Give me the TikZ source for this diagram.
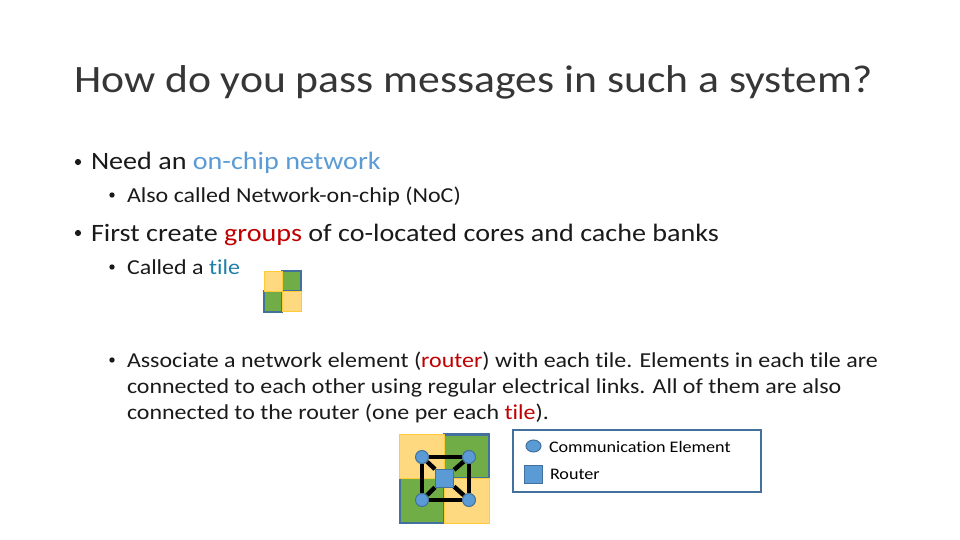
\documentclass[tikz,border=0pt]{standalone}
\usepackage{fontspec}
\usetikzlibrary{shapes.geometric,backgrounds}
\setmainfont{Carlito}[FakeStretch=1.125,Ligatures=NoCommon]
\definecolor{tealb}{HTML}{41719C}
\definecolor{gold}{HTML}{FFC000}
\definecolor{yfill}{HTML}{FFD97F}
\definecolor{gfill}{HTML}{70AD47}
\definecolor{bfill}{HTML}{5B9BD5}
\definecolor{bedge}{HTML}{41719C}
\definecolor{hlblue}{HTML}{5B9BD5}
\definecolor{hlteal}{HTML}{1F7FA8}
\definecolor{hlred}{HTML}{C00000}
\definecolor{ink}{HTML}{1A1A1A}
\tikzset{
 txt/.style={anchor=base west,inner sep=0pt,outer sep=0pt,text=ink,align=left},
 title/.style={txt,font=\fontsize{38.8}{44}\selectfont,text=ink!88!white},
 lvlone/.style={txt,font=\fontsize{25}{30}\selectfont},
 lvltwo/.style={txt,font=\fontsize{21.3}{26.5}\selectfont},
 legtext/.style={txt,font=\fontsize{16.1}{20}\selectfont,text=black},
 bullone/.style={circle,fill=ink,inner sep=0pt,minimum size=6.2pt},
 bulltwo/.style={circle,fill=ink,inner sep=0pt,minimum size=5.4pt},
 ytile/.style={fill=yfill,draw=gold!55!yfill,line width=1pt},
 gtile/.style={fill=gfill,draw=tealb,line width=2.4pt},
 comm/.style={circle,fill=bfill,draw=bedge,line width=1pt,inner sep=0pt,minimum size=13pt},
 commleg/.style={ellipse,fill=bfill,draw=bedge,line width=1pt,inner sep=0pt,minimum width=15pt,minimum height=12pt},
 router/.style={rectangle,fill=bfill,draw=bedge,line width=1pt,inner sep=0pt,minimum size=18pt},
 link/.style={draw=black,line width=4.4pt},
 legendbox/.style={rectangle,draw=tealb,line width=2pt,fill=white,inner sep=0pt,minimum width=248pt,minimum height=62pt},
}
\begin{document}
\begin{tikzpicture}[x=1pt,y=-1pt]
\useasboundingbox (0,0) rectangle (960,540);
\node[title] (t) at (74,93) {How do you pass messages in such a system?};
\node[bullone] (b1d) at (78,162) {};
\node[lvlone] (b1) at (91,170) {Need an \textcolor{hlblue}{on-chip network}};
\node[bulltwo] (b2d) at (112,195) {};
\node[lvltwo] (b2) at (127,202) {Also called Network-on-chip (NoC)};
\node[bullone] (b3d) at (78,233) {};
\node[lvlone] (b3) at (91,241) {First create \textcolor{hlred}{groups} of co-located cores and cache banks};
\node[bulltwo] (b4d) at (112,267) {};
\node[lvltwo] (b4) at (127,274) {Called a \textcolor{hlteal}{tile}};
\node[bulltwo] (b5d) at (112,360) {};
\node[lvltwo] (b5a) at (127,367) {Associate a network element (\textcolor{hlred}{router}) with each tile. Elements in each tile are};
\node[lvltwo] (b5b) at (127,393) {connected to each other using regular electrical links. All of them are also};
\node[lvltwo] (b5c) at (127,419) {connected to the router (one per each \textcolor{hlred}{tile}).};
% small tile
\draw[gtile,line width=2pt] (282,271) rectangle (301,291);
\draw[gtile,line width=2pt] (264,291) rectangle (282,312);
\draw[ytile] (264,271) rectangle (282,291);
\draw[ytile] (282,291) rectangle (301,311);
% large tile nodes
\node[comm] (c1) at (422,457) {};
\node[comm] (c2) at (469,457) {};
\node[comm] (c3) at (422,500) {};
\node[comm] (c4) at (469,500) {};
\node[router] (r) at (444.5,478) {};
\begin{scope}[on background layer]
\draw[gtile] (444,434.5) rectangle (489,478);
\draw[gtile] (400,478) rectangle (444,523);
\draw[ytile] (399.5,434.5) rectangle (444,478);
\draw[ytile] (444,478) rectangle (489,523);
\draw[link] (c1) -- (c2);
\draw[link] (c2) -- (c4);
\draw[link] (c4) -- (c3);
\draw[link] (c3) -- (c1);
\draw[link] (c1) -- (r);
\draw[link] (c2) -- (r);
\draw[link] (c3) -- (r);
\draw[link] (c4) -- (r);
\end{scope}
% legend
\node[legendbox] (lg) at (637,460.5) {};
\node[commleg] (lc) at (533.5,446) {};
\node[router] (lr) at (533.5,474.5) {};
\node[legtext] (lt1) at (549,452) {Communication Element};
\node[legtext] (lt2) at (550,479) {Router};
\end{tikzpicture}
\end{document}
